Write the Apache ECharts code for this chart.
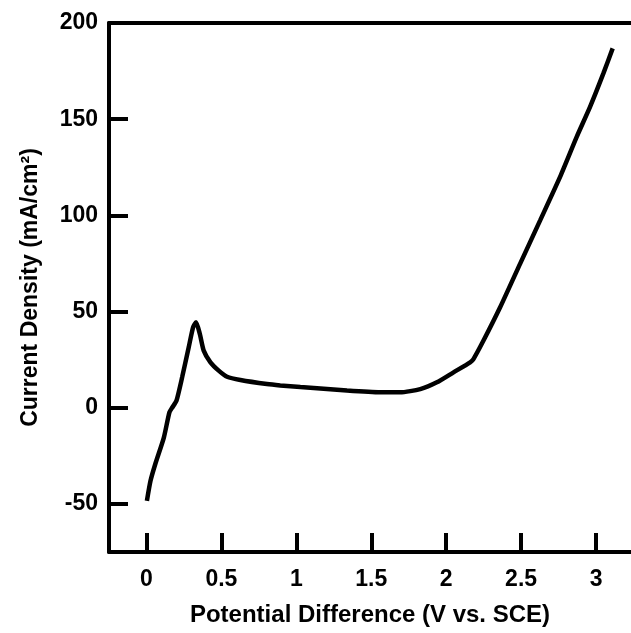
<!DOCTYPE html>
<html>
<head>
<meta charset="utf-8">
<script src="https://cdn.jsdelivr.net/npm/echarts@6/dist/echarts.min.js"></script>
<style>html,body{margin:0;padding:0;background:#fff;}#c{width:631px;height:633px;}</style>
</head>
<body>
<div id="c"></div>
<script>
const potential = [0.003, 0.027, 0.06, 0.116, 0.153, 0.171, 0.2, 0.238, 0.282, 0.311, 0.331, 0.356, 0.382, 0.427, 0.482, 0.538, 0.627, 0.804, 0.893, 1.027, 1.116, 1.338, 1.56, 1.693, 1.827, 1.938, 2.049, 2.16, 2.182, 2.249, 2.36, 2.493, 2.627, 2.76, 2.871, 2.96, 3.049, 3.111];
const current = [-48.4, -38, -29, -15.5, -2.4, 0, 3.6, 15.8, 31.4, 41.8, 44.4, 38.4, 29.7, 23.6, 19.3, 16.1, 14.4, 12.3, 11.6, 10.8, 10.3, 8.9, 8.0, 8.0, 9.7, 13.2, 18.4, 23.6, 25.3, 34.9, 52.2, 74.8, 97.4, 120, 140.8, 156.4, 173.8, 186.8];
const xTicks = [0, 0.5, 1, 1.5, 2, 2.5, 3];
const yTicks = [-50, 0, 50, 100, 150, 200];
const xTitle = 'Potential Difference (V vs. SCE)';
const yTitle = 'Current Density (mA/cm\u00B2)';

const font = '"Liberation Sans", Arial, sans-serif';
const chart = echarts.init(document.getElementById('c'), null, {renderer: 'canvas'});
chart.setOption({
  animation: false,
  backgroundColor: '#fff',
  grid: {left: 109, top: 23, right: 0, bottom: 81, containLabel: false},
  xAxis: [{
    type: 'value', min: -0.25, max: 3.2333, position: 'bottom',
    name: xTitle, nameLocation: 'middle', nameGap: 51,
    nameTextStyle: {fontFamily: font, fontWeight: 'bold', fontSize: 24, color: '#000'},
    axisLine: {show: true, onZero: false, lineStyle: {color: '#000', width: 4}},
    axisTick: {show: true, inside: true, length: 19, customValues: xTicks, lineStyle: {color: '#000', width: 4}},
    axisLabel: {customValues: xTicks, margin: 16, fontFamily: font, fontWeight: 'bold', fontSize: 23, color: '#000',
      formatter: v => String(v)},
    splitLine: {show: false}
  }, {
    type: 'value', min: -0.25, max: 3.2333, position: 'top',
    axisLine: {show: true, onZero: false, lineStyle: {color: '#000', width: 4}},
    axisTick: {show: false}, axisLabel: {show: false}, splitLine: {show: false}
  }],
  yAxis: [{
    type: 'value', min: -75, max: 200,
    name: yTitle, nameLocation: 'middle', nameGap: 67, nameRotate: 90,
    nameTextStyle: {fontFamily: font, fontWeight: 'bold', fontSize: 23, color: '#000'},
    axisLine: {show: true, onZero: false, lineStyle: {color: '#000', width: 4}},
    axisTick: {show: true, inside: true, length: 19, customValues: yTicks, lineStyle: {color: '#000', width: 4}},
    axisLabel: {customValues: yTicks, margin: 11, fontFamily: font, fontWeight: 'bold', fontSize: 23, color: '#000'},
    splitLine: {show: false}
  }],
  series: [{
    type: 'line',
    data: potential.map((x, i) => [x, current[i]]),
    showSymbol: false,
    smooth: 0.2,
    lineStyle: {color: '#000', width: 4.5}
  }]
});
</script>
</body>
</html>
